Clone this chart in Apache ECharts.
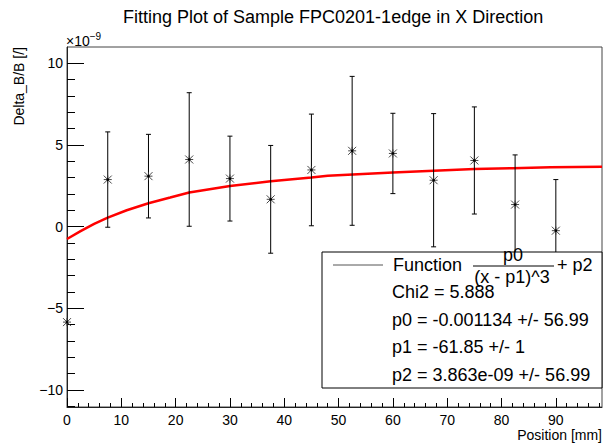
<!DOCTYPE html>
<html><head><meta charset="utf-8">
<script src="https://cdn.jsdelivr.net/npm/echarts@6/dist/echarts.min.js"></script>
<style>html,body{margin:0;padding:0;background:#fff}#c{width:606px;height:448px}</style>
</head><body><div id="c"></div>
<script>
// Data (y in units of 1e-9)
const positions   = [0, 7.5, 15, 22.5, 30, 37.5, 45, 52.5, 60, 67.5, 75, 82.5, 90];
const deltaValues = [-5.85, 2.88, 3.09, 4.11, 2.94, 1.67, 3.47, 4.64, 4.48, 2.84, 4.05, 1.35, -0.25];
const deltaErrors = [0, 2.92, 2.56, 4.09, 2.6, 3.3, 3.42, 4.56, 2.46, 4.08, 3.28, 3.04, 3.13];
const fitX = [0, 2.5, 5, 7.5, 11, 15, 19, 22.5, 30, 37.5, 45, 48, 60, 75, 82, 89, 98.5];
const fitY = [-0.76, -0.28, 0.16, 0.55, 1.0, 1.43, 1.78, 2.09, 2.49, 2.78, 3.0, 3.12, 3.31, 3.52, 3.58, 3.64, 3.66];
const xTickLabels = [0, 10, 20, 30, 40, 50, 60, 70, 80, 90];
const xMinorTicks = [0, 2, 4, 6, 8, 12, 14, 16, 18, 22, 24, 26, 28, 32, 34, 36, 38, 42, 44, 46, 48, 52, 54, 56, 58, 62, 64, 66, 68, 72, 74, 76, 78, 82, 84, 86, 88, 92, 94, 96, 98];
const yTickLabels = [-10, -5, 0, 5, 10];
const yMinorTicks = [-11, -9, -8, -7, -6, -4, -3, -2, -1, 1, 2, 3, 4, 6, 7, 8, 9];
const titleText = 'Fitting Plot of Sample FPC0201-1edge in X Direction';
const statLines = ['Chi2 = 5.888', 'p0 = -0.001134 +/- 56.99', 'p1 = -61.85 +/- 1', 'p2 = 3.863e-09 +/- 56.99'];

const FONT = '"Liberation Sans", Arial, Helvetica, sans-serif';
const X_MIN = 0, X_MAX = 98.5, Y_MIN = -11.05, Y_MAX = 11.0;

const points = positions.map((x, i) => [x, deltaValues[i], deltaErrors[i]]);
const fitLine = fitX.map((x, i) => [x, fitY[i]]);

function fmtY(v) { return v < 0 ? '\u2212' + Math.abs(v) : String(v); }

const chart = echarts.init(document.getElementById('c'), null, {renderer: 'svg'});
const option = {
  backgroundColor: '#fff',
  animation: false,
  title: {
    text: titleText, left: 123, top: 7, padding: 0,
    textStyle: {fontFamily: FONT, fontSize: 18, fontWeight: 'normal', color: '#000', lineHeight: 20}
  },
  grid: {left: 67, top: 47, right: 4, bottom: 41, show: true, borderColor: '#444', borderWidth: 1, backgroundColor: 'transparent'},
  xAxis: [{
    type: 'value', min: X_MIN, max: X_MAX, position: 'bottom',
    axisLine: {show: true, onZero: false, lineStyle: {color: '#222', width: 1}},
    axisTick: {show: true, inside: true, length: 9, customValues: xTickLabels, lineStyle: {color: '#000'}},
    axisLabel: {customValues: xTickLabels, margin: 6, fontFamily: FONT, fontSize: 14, color: '#000'},
    splitLine: {show: false}
  }, {
    type: 'value', min: X_MIN, max: X_MAX, position: 'bottom',
    axisLine: {show: false, onZero: false},
    axisTick: {show: true, inside: true, length: 4, customValues: xMinorTicks, lineStyle: {color: '#000'}},
    axisLabel: {show: false},
    splitLine: {show: false}
  }],
  yAxis: [{
    type: 'value', min: Y_MIN, max: Y_MAX, position: 'left',
    axisLine: {show: true, onZero: false, lineStyle: {color: '#222', width: 1}},
    axisTick: {show: true, inside: true, length: 17, customValues: yTickLabels, lineStyle: {color: '#000'}},
    axisLabel: {customValues: yTickLabels, margin: 4, fontFamily: FONT, fontSize: 14, color: '#000', formatter: fmtY},
    splitLine: {show: false}
  }, {
    type: 'value', min: Y_MIN, max: Y_MAX, position: 'left',
    axisLine: {show: false, onZero: false},
    axisTick: {show: true, inside: true, length: 8, customValues: yMinorTicks, lineStyle: {color: '#000'}},
    axisLabel: {show: false},
    splitLine: {show: false}
  }],
  series: [{
    type: 'line', data: fitLine, xAxisIndex: 0, yAxisIndex: 0,
    showSymbol: false, smooth: false, z: 3,
    lineStyle: {color: '#ff0000', width: 2.5}
  }, {
    type: 'custom', data: points, xAxisIndex: 0, yAxisIndex: 0, clip: false, z: 4,
    renderItem: function (params, api) {
      const x = api.value(0), y = api.value(1), e = api.value(2);
      const c = api.coord([x, y]);
      const children = [];
      const st = {stroke: '#000', lineWidth: 1};
      if (e > 0) {
        const top = api.coord([x, y + e]);
        const bot = api.coord([x, y - e]);
        children.push({type: 'line', shape: {x1: c[0], y1: top[1], x2: c[0], y2: bot[1]}, style: st});
        children.push({type: 'line', shape: {x1: c[0] - 2.5, y1: top[1], x2: c[0] + 2.5, y2: top[1]}, style: st});
        children.push({type: 'line', shape: {x1: c[0] - 2.5, y1: bot[1], x2: c[0] + 2.5, y2: bot[1]}, style: st});
      }
      const r = 4;
      const ms = {stroke: '#333', lineWidth: 0.9};
      children.push({type: 'line', shape: {x1: c[0] - r, y1: c[1], x2: c[0] + r, y2: c[1]}, style: ms});
      children.push({type: 'line', shape: {x1: c[0], y1: c[1] - r, x2: c[0], y2: c[1] + r}, style: ms});
      children.push({type: 'line', shape: {x1: c[0] - r, y1: c[1] - r, x2: c[0] + r, y2: c[1] + r}, style: ms});
      children.push({type: 'line', shape: {x1: c[0] - r, y1: c[1] + r, x2: c[0] + r, y2: c[1] - r}, style: ms});
      children.push({type: 'circle', shape: {cx: c[0], cy: c[1], r: 1.3}, style: {fill: '#000'}});
      return {type: 'group', children: children};
    }
  }],
  graphic: [
    {type: 'text', x: 19, y: 47, rotation: Math.PI / 2, z: 10,
     style: {text: 'Delta_B/B [/]', font: '14px ' + FONT, fill: '#000', textAlign: 'right', textVerticalAlign: 'middle'}},
    {type: 'text', x: 66, y: 41, z: 10,
     style: {text: '{a|\u00d710}{b|\u22129}', textVerticalAlign: 'middle', textAlign: 'left',
       rich: {a: {fontFamily: FONT, fontSize: 14, fill: '#000', color: '#000'}, b: {fontFamily: FONT, fontSize: 10, color: '#000', padding: [0, 0, 9, 0]}}}},
    {type: 'text', x: 602, y: 435, z: 10,
     style: {text: 'Position [mm]', font: '14px ' + FONT, fill: '#000', textAlign: 'right', textVerticalAlign: 'middle'}},
    {type: 'group', z: 20, children: [
      {type: 'rect', shape: {x: 322, y: 252, width: 280, height: 136}, style: {fill: '#fff', stroke: '#000', lineWidth: 1}, z: 20},
      {type: 'line', shape: {x1: 333, y1: 265, x2: 383, y2: 265}, style: {stroke: '#555', lineWidth: 1}, z: 21},
      {type: 'text', x: 393, y: 265, z: 21, style: {text: 'Function', font: '18px ' + FONT, fill: '#000', textVerticalAlign: 'middle'}},
      {type: 'text', x: 513, y: 255, z: 21, style: {text: 'p0', font: '18px ' + FONT, fill: '#000', textAlign: 'center', textVerticalAlign: 'middle'}},
      {type: 'line', shape: {x1: 473, y1: 266, x2: 554, y2: 266}, style: {stroke: '#000', lineWidth: 1}, z: 21},
      {type: 'text', x: 512, y: 277, z: 21, style: {text: '(x - p1)^3', font: '18px ' + FONT, fill: '#000', textAlign: 'center', textVerticalAlign: 'middle'}},
      {type: 'text', x: 557, y: 265, z: 21, style: {text: '+ p2', font: '18px ' + FONT, fill: '#000', textVerticalAlign: 'middle'}},
      {type: 'text', x: 392, y: 292, z: 21, style: {text: statLines[0], font: '18px ' + FONT, fill: '#000', textVerticalAlign: 'middle'}},
      {type: 'text', x: 392, y: 320, z: 21, style: {text: statLines[1], font: '18px ' + FONT, fill: '#000', textVerticalAlign: 'middle'}},
      {type: 'text', x: 392, y: 347, z: 21, style: {text: statLines[2], font: '18px ' + FONT, fill: '#000', textVerticalAlign: 'middle'}},
      {type: 'text', x: 392, y: 374.5, z: 21, style: {text: statLines[3], font: '18px ' + FONT, fill: '#000', textVerticalAlign: 'middle'}}
    ]}
  ]
};
chart.setOption(option);
</script>
</body></html>
